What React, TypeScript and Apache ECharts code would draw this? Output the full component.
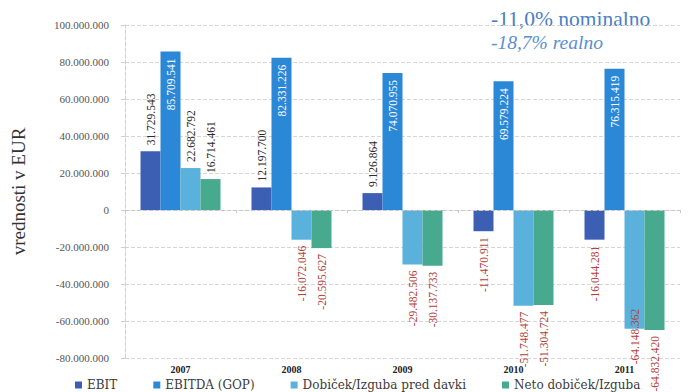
import React, { useEffect, useRef } from "react";
import * as echarts from "echarts";

const years = ["2007", "2008", "2009", "2010", "2011"];
const ebit = [31729543, 12197700, 9126864, -11470911, -16044281];
const ebitda = [85709541, 82331226, 74070955, 69579224, 76315419];
const dobicekPredDavki = [22682792, -16072046, -29482506, -51748477, -64148362];
const netoDobicek = [16714461, -20595627, -30137733, -51304724, -64832420];
const seriesNames = ["EBIT", "EBITDA (GOP)", "Dobiček/Izguba pred davki", "Neto dobiček/Izguba"];
const headline = ["-11,0% nominalno", "-18,7% realno"];

const SERIF = "'Liberation Serif', 'DejaVu Serif', serif";
const WIDE_SERIF = "'DejaVu Serif', 'Liberation Serif', serif";

const fmt = (v: number) => {
  const s = Math.abs(v).toString().replace(/\B(?=(\d{3})+(?!\d))/g, ".");
  return (v < 0 ? "-" : "") + s;
};

const outsideLabel = (v: number) =>
  v >= 0
    ? { show: true, position: "top", distance: 6, rotate: 90, align: "left", verticalAlign: "middle", color: "#2b2b2b" }
    : { show: true, position: "bottom", distance: 6, rotate: 90, align: "right", verticalAlign: "middle", color: "#b2433b" };

const items = (vals: number[], labelFor: (v: number, i: number) => any) =>
  vals.map((v, i) => ({ value: v, label: labelFor(v, i) }));

export default function App() {
  const ref = useRef<HTMLDivElement>(null);

  useEffect(() => {
    if (!ref.current) return;
    const chart = echarts.init(ref.current, null, { renderer: "svg" });
    const baseLabel = {
      fontFamily: SERIF,
      fontSize: 11.5,
      formatter: (p: any) => fmt(p.value),
    };
    chart.setOption({
      animation: false,
      backgroundColor: "#ffffff",
      grid: { left: 125, right: 8, top: 25, bottom: 34, containLabel: false },
      legend: {
        data: seriesNames,
        top: 374,
        left: 70,
        icon: "rect",
        itemWidth: 7,
        itemHeight: 7,
        itemGap: 36,
        textStyle: { fontFamily: WIDE_SERIF, fontSize: 12, color: "#3a3a3a" },
      },
      graphic: [
        {
          type: "text",
          left: 491,
          top: 8,
          style: { text: headline[0], font: `21.5px ${SERIF}`, fill: "#4a80c4" },
        },
        {
          type: "text",
          left: 491,
          top: 32,
          style: { text: headline[1], font: `italic 19.5px ${SERIF}`, fill: "#5b8fcf" },
        },
      ],
      xAxis: {
        type: "category",
        data: years,
        z: 10,
        axisLine: { onZero: true, lineStyle: { color: "#c8c8c8", type: "dashed" } },
        axisTick: { show: true, length: 3, lineStyle: { color: "#c8c8c8" } },
        axisLabel: { fontFamily: SERIF, fontSize: 10, fontWeight: "bold", color: "#222", margin: 6 },
      },
      yAxis: {
        type: "value",
        min: -80000000,
        max: 100000000,
        interval: 20000000,
        name: "vrednosti v EUR",
        nameLocation: "middle",
        nameRotate: 90,
        nameGap: 97,
        nameTextStyle: { fontFamily: SERIF, fontSize: 19, color: "#333" },
        axisLine: { show: true, lineStyle: { color: "#cfcfcf", type: "dashed" } },
        axisTick: { show: true, length: 4, lineStyle: { color: "#cfcfcf" } },
        axisLabel: {
          fontFamily: SERIF,
          fontSize: 11,
          color: "#555",
          margin: 16,
          formatter: (v: number) => fmt(v),
        },
        splitLine: { lineStyle: { color: "#d6d6d6", type: "dashed" } },
      },
      series: [
        {
          name: seriesNames[0],
          type: "bar",
          barWidth: 20,
          barGap: "0%",
          itemStyle: { color: "#3d5fb3" },
          label: baseLabel,
          data: items(ebit, (v) => outsideLabel(v)),
        },
        {
          name: seriesNames[1],
          type: "bar",
          barWidth: 20,
          barGap: "0%",
          itemStyle: { color: "#2b88d6" },
          label: baseLabel,
          data: items(ebitda, () => ({
            show: true,
            position: "insideTop",
            distance: 7,
            rotate: 90,
            align: "right",
            verticalAlign: "middle",
            color: "#ffffff",
          })),
        },
        {
          name: seriesNames[2],
          type: "bar",
          barWidth: 20,
          barGap: "0%",
          itemStyle: { color: "#5ab2dc" },
          label: baseLabel,
          data: items(dobicekPredDavki, (v, i) =>
            i === dobicekPredDavki.length - 1
              ? { show: true, position: "insideBottom", distance: 20, rotate: 90, align: "right", verticalAlign: "middle", color: "#b2433b" }
              : outsideLabel(v)
          ),
        },
        {
          name: seriesNames[3],
          type: "bar",
          barWidth: 20,
          barGap: "0%",
          itemStyle: { color: "#47a98e" },
          label: baseLabel,
          data: items(netoDobicek, (v) => outsideLabel(v)),
        },
      ],
    });
    return () => chart.dispose();
  }, []);

  return (
    <div
      ref={ref}
      style={{ position: "fixed", left: 0, top: 0, width: 688, height: 392, background: "#fff" }}
    />
  );
}
